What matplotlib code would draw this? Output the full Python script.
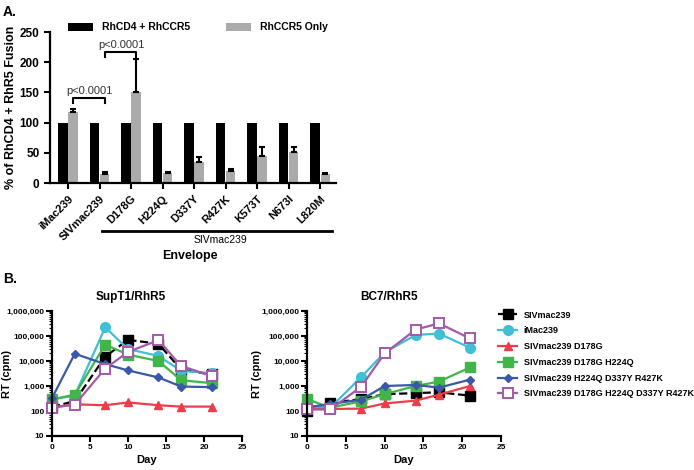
import matplotlib
matplotlib.use("Agg")
import matplotlib.pyplot as plt
from matplotlib.lines import Line2D
from matplotlib.ticker import LogLocator, FuncFormatter, NullFormatter
import numpy as np

plt.rcParams["font.family"] = ["Liberation Sans", "DejaVu Sans"]
plt.rcParams["font.weight"] = "bold"

# ---- panel A data ----
envelopes = ["iMac239", "SIVmac239", "D178G", "H224Q", "D337Y",
             "R427K", "K573T", "N673I", "L820M"]
cd4_ccr5 = [100, 100, 100, 100, 100, 100, 100, 100, 100]
ccr5_only = [118, 15, 150, 17, 35, 20, 45, 51, 15]
ccr5_err = [5, 3, 55, 2, 8, 4, 14, 8, 2]

# ---- panel B data ----
days = [0, 3, 7, 10, 14, 17, 21]
virus_names = ["SIVmac239", "iMac239", "SIVmac239 D178G", "SIVmac239 D178G H224Q",
               "SIVmac239 H224Q D337Y R427K", "SIVmac239 D178G H224Q D337Y R427K"]
supt1_rt = [
    [145, 250, 15000, 70000, 49000, 4500, 2900],
    [290, 420, 220000, 30000, 16000, 4000, 3300],
    [140, 185, 170, 220, 170, 150, 150],
    [290, 450, 45000, 18000, 10000, 1700, 1300],
    [330, 19500, 7500, 4200, 2200, 950, 900],
    [135, 180, 5000, 23000, 68000, 6300, 2500],
]
bc7_rt = [
    [100, 210, 300, 470, 520, 560, 410],
    [160, 135, 2300, 22000, 110000, 125000, 34000],
    [125, 120, 125, 200, 260, 450, 1000],
    [300, 135, 245, 470, 1000, 1500, 5500],
    [140, 190, 285, 1000, 1100, 860, 1800],
    [115, 115, 950, 20000, 180000, 320000, 80000],
]

styles = [
    dict(color="black", marker="s", ls="--", ms=7, mfc="black"),
    dict(color="#41bfd5", marker="o", ls="-", ms=7, mfc="#41bfd5"),
    dict(color="#ee3d4a", marker="^", ls="-", ms=6, mfc="#ee3d4a"),
    dict(color="#3fb54a", marker="s", ls="-", ms=6.5, mfc="#3fb54a"),
    dict(color="#3a58a7", marker="D", ls="-", ms=4, mfc="#3a58a7"),
    dict(color="#a35aa8", marker="s", ls="-", ms=7, mfc="white", mew=1.4),
]

W, H = 694, 470
fig = plt.figure(figsize=(W / 100, H / 100), dpi=100)


def px_axes(x0, y0, x1, y1):
    return fig.add_axes([x0 / W, 1 - y1 / H, (x1 - x0) / W, (y1 - y0) / H])


# ---------------- panel A ----------------
axA = px_axes(50, 32, 336, 183)
x = np.arange(len(envelopes))
axA.bar(x - 0.16, cd4_ccr5, width=0.3, color="black", label="RhCD4 + RhCCR5", zorder=2)
axA.bar(x + 0.16, ccr5_only, width=0.3, color="#aaaaaa", label="RhCCR5 Only", zorder=2)
axA.errorbar(x + 0.16, ccr5_only, yerr=[np.zeros(len(x)), ccr5_err], fmt="none",
             ecolor="black", elinewidth=1.5, capsize=2.5, capthick=1.5, zorder=3)
axA.set_xlim(-0.57, 8.5)
axA.set_ylim(0, 250)
axA.set_yticks([0, 50, 100, 150, 200, 250])
axA.set_xticks(x)
axA.set_xticklabels(envelopes, rotation=45, ha="right", rotation_mode="anchor")
axA.tick_params(axis="both", labelsize=8.5, width=1.5, length=4)
axA.tick_params(axis="x", labelsize=8)
for s in ["top", "right"]:
    axA.spines[s].set_visible(False)
for s in ["left", "bottom"]:
    axA.spines[s].set_linewidth(1.6)
axA.set_ylabel("% of RhCD4 + RhR5 Fusion", fontsize=9, fontweight="bold", labelpad=2)
axA.legend(loc="lower left", bbox_to_anchor=(0.05, 0.97), ncol=2, frameon=False,
           fontsize=7.5, handlelength=2.4, handleheight=0.8, columnspacing=3.5,
           borderaxespad=0)

# significance brackets
for (x0, x1, y, txt_x) in [(0.16, 1.16, 141, 0.68), (1.16, 2.16, 217, 1.71)]:
    axA.plot([x0, x0, x1, x1], [y - 9, y, y, y - 9], color="black", lw=1.5,
             clip_on=False, zorder=4)
    axA.text(txt_x, y + 3, "p<0.0001", ha="center", va="bottom", fontsize=8,
             fontweight="normal", color="#333333")

fig.add_artist(Line2D([102 / W, 332 / W], [1 - 231 / H, 1 - 231 / H],
                      color="black", lw=2))
fig.text(220 / W, 1 - 240 / H, "SIVmac239", ha="center", va="center", fontsize=7.5,
         fontweight="normal")
fig.text(190 / W, 1 - 256 / H, "Envelope", ha="center", va="center", fontsize=9,
         fontweight="bold")

fig.text(3 / W, 1 - 12 / H, "A.", ha="left", va="center", fontsize=10, fontweight="bold")
fig.text(3 / W, 1 - 279 / H, "B.", ha="left", va="center", fontsize=10, fontweight="bold")

# ---------------- panel B ----------------
comma_fmt = FuncFormatter(lambda v, p: f"{int(round(v)):,}")


def rt_panel(ax, series, label_x):
    for vals, st, name in zip(series, styles, virus_names):
        ax.plot(days, vals, lw=1.6, label=name, **st)
    ax.set_yscale("log")
    ax.set_ylim(10, 1e6)
    ax.set_xlim(0, 25)
    ax.set_xticks([0, 5, 10, 15, 20, 25])
    ax.yaxis.set_major_locator(LogLocator(base=10, numticks=10))
    ax.yaxis.set_minor_locator(LogLocator(base=10, subs=np.arange(2, 10), numticks=10))
    ax.yaxis.set_major_formatter(comma_fmt)
    ax.yaxis.set_minor_formatter(NullFormatter())
    ax.tick_params(axis="both", which="major", labelsize=6, width=1.5, length=4, pad=1.5)
    ax.tick_params(axis="y", which="minor", width=0.8, length=2.5)
    for s in ["top", "right"]:
        ax.spines[s].set_visible(False)
    for s in ["left", "bottom"]:
        ax.spines[s].set_linewidth(1.6)
    ax.set_xlabel("Day", fontsize=8, fontweight="bold", labelpad=3)
    ax.set_ylabel("RT (cpm)", fontsize=8, fontweight="bold")
    ax.yaxis.set_label_coords(label_x, 0.5)
    for ln in ax.lines:
        ln.set_clip_on(False)


axB1 = px_axes(52, 311, 242, 436)
rt_panel(axB1, supt1_rt, (12 - 52) / 190)
axB2 = px_axes(307, 311, 501, 436)
rt_panel(axB2, bc7_rt, (262 - 307) / 194)

fig.text(131 / W, 1 - 297 / H, "SupT1/RhR5", ha="center", va="center", fontsize=8.5,
         fontweight="bold")
fig.text(389 / W, 1 - 297 / H, "BC7/RhR5", ha="center", va="center", fontsize=8.5,
         fontweight="bold")

handles, labels = axB2.get_legend_handles_labels()
fig.legend(handles, labels, loc="upper left", bbox_to_anchor=(494 / W, 1 - 307 / H),
           frameon=False, fontsize=6.5, handlelength=2.2, labelspacing=0.75,
           borderaxespad=0, handletextpad=0.7)

fig.savefig("out.png", dpi=100)
